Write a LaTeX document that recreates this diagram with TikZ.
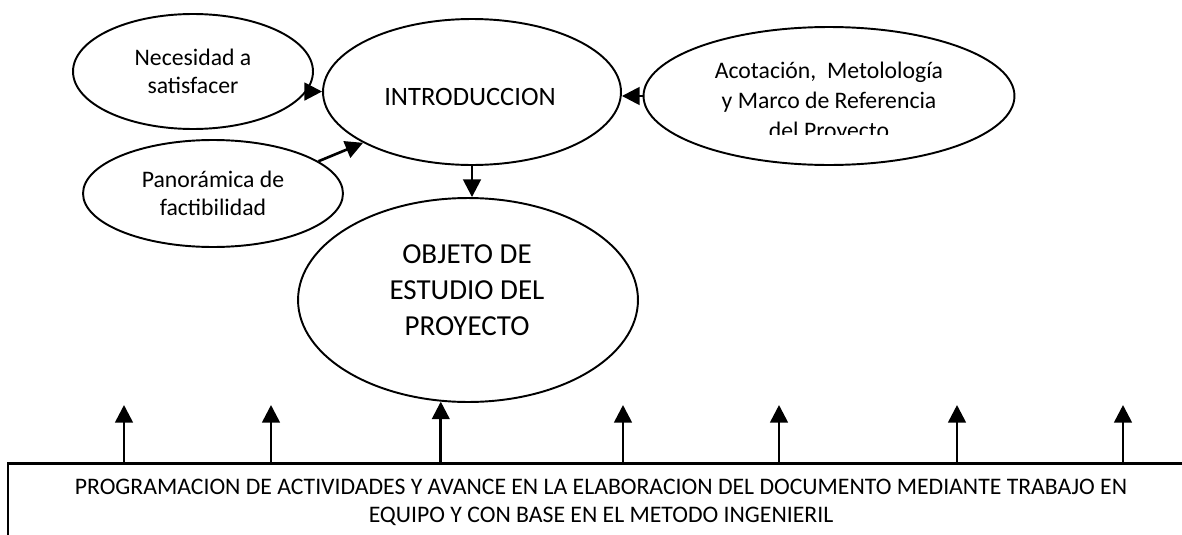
\documentclass[tikz,border=0pt]{standalone}
\usepackage{fontspec}
\setmainfont{Carlito}
\usetikzlibrary{arrows.meta,shapes.geometric}

\tikzset{
  bubble/.style={draw, ellipse, line width=1.1pt, inner sep=0pt},
  arr/.style={-{Triangle[length=10pt,width=10pt]}, line width=1.5pt},
  txt/.style={align=center, font=\fontsize{13.5}{16}\selectfont},
}

\begin{document}
\begin{tikzpicture}[x=0.02cm, y=-0.02cm]
        \clip [use as bounding box] (0,0) rectangle (1182,534);

        % Necesidad a satisfacer
        \node [bubble, txt, minimum width=4.8cm, minimum height=2.3cm]
          (nec) at (193,71.5) {Necesidad a\\satisfacer};

        % INTRODUCCION
        \node [bubble, minimum width=5.96cm, minimum height=2.92cm]
          (intro) at (472,92) {};
        \node [txt, font=\fontsize{15.1}{18}\selectfont]
          (introtxt) at (470,97) {INTRODUCCION};

        % Panoramica de factibilidad
        \node [bubble, txt, minimum width=5.2cm, minimum height=2.14cm]
          (pano) at (213,193.5) {Panorámica de\\factibilidad};

        % Acotacion ... (text cut at the bottom)
        \node [bubble, minimum width=7.42cm, minimum height=2.76cm]
          (acota) at (829,96) {};
        \begin{scope}
          \clip (650,30) rectangle (1010,134);
          \node [txt, font=\fontsize{13.5}{17}\selectfont]
            (acotatxt) at (829,102)
            {Acotación,~ Metolología\\y Marco de Referencia\\del Proyecto};
        \end{scope}

        % OBJETO DE ESTUDIO
        \node [bubble, minimum width=6.8cm, minimum height=4.08cm]
          (obj) at (468,300) {};
        \node [txt, font=\fontsize{16.5}{20.5}\selectfont]
          (objtxt) at (467,290) {OBJETO DE\\ESTUDIO DEL\\PROYECTO};

        % PROGRAMACION box
        \node [draw, line width=1.5pt, minimum width=23.72cm,
          minimum height=2.2cm, anchor=north] (prog) at (601,462) {};
        \node [txt] (progtxt) at (601,502)
          {PROGRAMACION DE ACTIVIDADES Y AVANCE EN LA ELABORACION DEL DOCUMENTO MEDIANTE TRABAJO EN\\
           EQUIPO Y CON BASE EN EL METODO INGENIERIL};

        % arrows into INTRODUCCION
        \draw [arr] (nec.350) -- (nec.350 -| intro.west);
        \draw [arr] (pano.17) -- (intro.205);
        \draw [arr] (acota.west) -- (acota.west -| intro.east);
        \draw [arr] (intro.south) -- (intro.south |- obj.north);

        % arrows up from the box
        \foreach \x [count=\i] in {124,271,623,779,957,1123}
          \coordinate (tip\i) at (\x,405);
        \foreach \i in {1,...,6}
          \draw [arr] (tip\i |- prog.north) -- (tip\i);
        \draw [arr] (obj.255 |- prog.north) -- (obj.255);

      \end{tikzpicture}
\end{document}
